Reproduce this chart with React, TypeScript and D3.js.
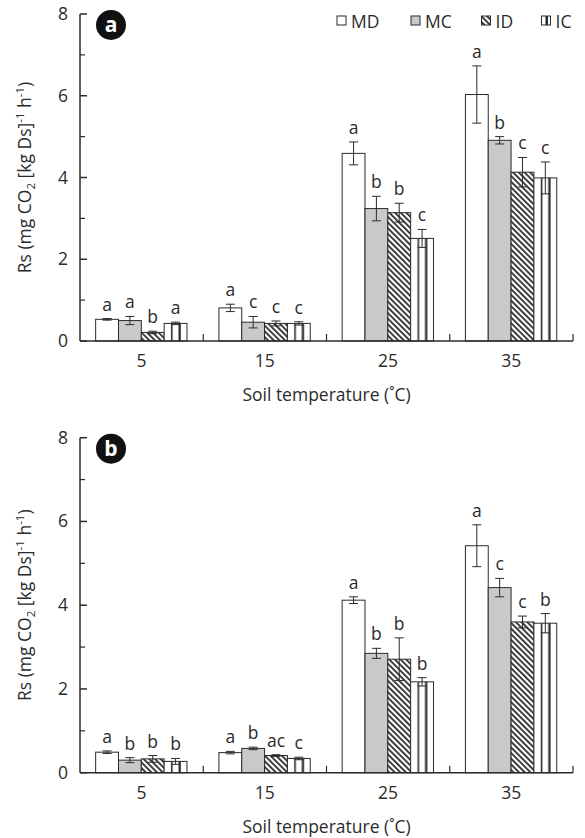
import React from "react";
import * as d3 from "d3";

const categories = ["5", "15", "25", "35"];
const series = ["MD", "MC", "ID", "IC"];

const meansA = [
  [0.53, 0.5, 0.21, 0.43],
  [0.81, 0.46, 0.43, 0.43],
  [4.59, 3.24, 3.14, 2.51],
  [6.03, 4.91, 4.13, 3.99],
];
const errA = [
  [0.02, 0.1, 0.03, 0.03],
  [0.09, 0.14, 0.06, 0.04],
  [0.28, 0.3, 0.23, 0.22],
  [0.7, 0.09, 0.36, 0.39],
];
const lettersA = [
  ["a", "a", "b", "a"],
  ["a", "c", "c", "c"],
  ["a", "b", "b", "c"],
  ["a", "b", "c", "c"],
];

const meansB = [
  [0.49, 0.3, 0.33, 0.27],
  [0.48, 0.58, 0.41, 0.34],
  [4.12, 2.85, 2.71, 2.17],
  [5.42, 4.42, 3.6, 3.57],
];
const errB = [
  [0.03, 0.06, 0.08, 0.07],
  [0.03, 0.03, 0.02, 0.03],
  [0.08, 0.12, 0.51, 0.1],
  [0.5, 0.22, 0.14, 0.23],
];
const lettersB = [
  ["a", "b", "b", "b"],
  ["a", "b", "ac", "c"],
  ["a", "b", "b", "b"],
  ["a", "c", "c", "b"],
];

const majorTicks = [0, 2, 4, 6, 8];
const minorTicks = [1, 3, 5, 7];

const FONT = "'Open Sans', 'Noto Sans', sans-serif";
const FS = 17.5;
const INK = "#2b2b2b";
const GRAY = "#c8c9cb";

const fills: Record<string, string> = {
  MD: "#ffffff",
  MC: GRAY,
  ID: "url(#hatchID)",
  IC: "url(#stripeIC)",
};

function Panel({
  top,
  bottom,
  tag,
  means,
  errs,
  letters,
}: {
  top: number;
  bottom: number;
  tag: string;
  means: number[][];
  errs: number[][];
  letters: string[][];
}) {
  const left = 80;
  const right = 573;
  const x = d3.scaleBand<string>().domain(categories).range([left, right]).padding(0);
  const y = d3.scaleLinear().domain([0, 8]).range([bottom, top]);
  const bw = x.bandwidth();
  const inner = d3
    .scaleBand<string>()
    .domain(series)
    .range([bw * 0.127, bw * 0.868])
    .padding(0);
  const ib = inner.bandwidth();
  const midY = (top + bottom) / 2;

  return (
    <g>
      {categories.map((c, ci) =>
        series.map((s, si) => {
          const bx = (x(c) as number) + (inner(s) as number);
          const v = means[ci][si];
          const e = errs[ci][si];
          const cx = bx + ib / 2;
          return (
            <g key={c + s}>
              <rect
                x={bx}
                y={y(v)}
                width={ib}
                height={y(0) - y(v)}
                fill={fills[s]}
                stroke={INK}
                strokeWidth={1}
              />
              <line x1={cx} x2={cx} y1={y(v + e)} y2={y(v - e)} stroke={INK} strokeWidth={1} />
              <line x1={cx - 4.5} x2={cx + 4.5} y1={y(v + e)} y2={y(v + e)} stroke={INK} strokeWidth={1} />
              <line x1={cx - 4.5} x2={cx + 4.5} y1={y(v - e)} y2={y(v - e)} stroke={INK} strokeWidth={1} />
              <text
                x={cx}
                y={y(v + e) - 8}
                textAnchor="middle"
                fontFamily={FONT}
                fontSize={FS}
                fill={INK}
              >
                {letters[ci][si]}
              </text>
            </g>
          );
        })
      )}
      <line x1={left} x2={left} y1={y(8)} y2={y(0)} stroke={INK} strokeWidth={1.5} />
      {majorTicks.map((t) => (
        <g key={"M" + t}>
          <line x1={left} x2={left + 7} y1={y(t)} y2={y(t)} stroke={INK} strokeWidth={1.5} />
          <text
            x={left - 12}
            y={y(t) + 6}
            textAnchor="end"
            fontFamily={FONT}
            fontSize={FS}
            fill={INK}
          >
            {t}
          </text>
        </g>
      ))}
      {minorTicks.map((t) => (
        <line key={"m" + t} x1={left} x2={left + 5} y1={y(t)} y2={y(t)} stroke={INK} strokeWidth={1.2} />
      ))}
      <line x1={left} x2={right} y1={y(0)} y2={y(0)} stroke={INK} strokeWidth={1.5} />
      {categories.map((c) => (
        <g key={"xt" + c}>
          <line
            x1={(x(c) as number) + bw}
            x2={(x(c) as number) + bw}
            y1={y(0)}
            y2={y(0) - 7}
            stroke={INK}
            strokeWidth={1.2}
          />
          <text
            x={(x(c) as number) + bw / 2}
            y={y(0) + 26}
            textAnchor="middle"
            fontFamily={FONT}
            fontSize={FS}
            fill={INK}
          >
            {c}
          </text>
        </g>
      ))}
      <text
        x={(left + right) / 2}
        y={y(0) + 60}
        textAnchor="middle"
        fontFamily={FONT}
        fontSize={FS}
        fill={INK}
      >
        Soil temperature (˚C)
      </text>
      <text
        transform={`translate(31,${midY}) rotate(-90)`}
        textAnchor="middle"
        fontFamily={FONT}
        fontSize={FS}
        fill={INK}
      >
        Rs (mg CO
        <tspan fontSize={11.5} dy={4}>2</tspan>
        <tspan dy={-4}> [kg Ds]</tspan>
        <tspan fontSize={11.5} dy={-7}>-1</tspan>
        <tspan dy={7}> h</tspan>
        <tspan fontSize={11.5} dy={-7}>-1</tspan>
        <tspan dy={7}>)</tspan>
      </text>
      <circle cx={111} cy={top + 11} r={15} fill="#111" />
      <text
        x={111}
        y={top + 18}
        textAnchor="middle"
        fontFamily={FONT}
        fontWeight="bold"
        fontSize={21}
        fill="#fff"
      >
        {tag}
      </text>
    </g>
  );
}

function Legend() {
  const xs = [337, 411, 481.5, 541.5];
  const cy = 21;
  return (
    <g>
      {series.map((s, i) => (
        <g key={s}>
          <rect
            x={xs[i]}
            y={cy - 5}
            width={9}
            height={9}
            fill={s === "IC" ? "#fff" : fills[s]}
            stroke={INK}
            strokeWidth={1}
          />
          {s === "IC" && <rect x={xs[i] + 4} y={cy - 5} width={2.5} height={9} fill={INK} />}
          <text x={xs[i] + 14} y={cy + 6.5} fontFamily={FONT} fontSize={FS} fill={INK}>
            {s}
          </text>
        </g>
      ))}
    </g>
  );
}

export default function App() {
  return (
    <div style={{ position: "absolute", left: 0, top: 0 }}>
      <svg width={585} height={838} style={{ display: "block", background: "#fff" }}>
        <defs>
          <pattern
            id="hatchID"
            patternUnits="userSpaceOnUse"
            width={4}
            height={4}
            patternTransform="rotate(-45)"
          >
            <rect x={0} y={0} width={4} height={4} fill="#fff" />
            <rect x={0} y={0} width={1.8} height={4} fill={INK} />
          </pattern>
          <pattern
            id="stripeIC"
            patternUnits="objectBoundingBox"
            patternContentUnits="objectBoundingBox"
            width={1}
            height={1}
          >
            <rect x={0} y={0} width={1} height={1} fill="#fff" />
            <rect x={0.3} y={0} width={0.07} height={1} fill={INK} />
            <rect x={0.63} y={0} width={0.1} height={1} fill={INK} />
          </pattern>
        </defs>
        <Panel top={14} bottom={341} tag="a" means={meansA} errs={errA} letters={lettersA} />
        <Panel top={437.7} bottom={772.7} tag="b" means={meansB} errs={errB} letters={lettersB} />
        <Legend />
      </svg>
    </div>
  );
}
